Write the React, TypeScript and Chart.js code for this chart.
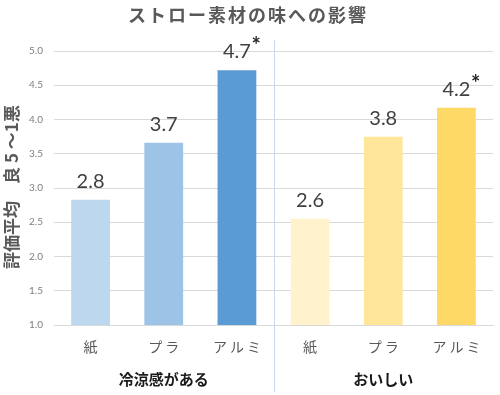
import React, { useEffect, useRef } from "react";
import { Chart, registerables } from "chart.js";

Chart.register(...registerables);

const title = "ストロー素材の味への影響";
const yAxisTitle = "評価平均　良 5 ～1悪";
const categories = ["紙", "プラ", "アルミ", "紙", "プラ", "アルミ"];
const groups = ["冷涼感がある", "おいしい"];
const values = [2.83, 3.66, 4.72, 2.55, 3.75, 4.17];
const valueLabels = ["2.8", "3.7", "4.7", "2.6", "3.8", "4.2"];
const significant = [false, false, true, false, false, true];
const barColors = ["#BDD7EE", "#9DC3E6", "#5B9BD5", "#FFF2CC", "#FFE699", "#FFD966"];
const yMin = 1;
const yMax = 5;
const yStep = 0.5;

const JP = '"Noto Sans CJK JP", "Noto Sans", sans-serif';

const decorPlugin = {
  id: "decor",
  afterDatasetsDraw(chart: any) {
    const { ctx, chartArea, scales } = chart;
    const x = scales.x;
    const meta = chart.getDatasetMeta(0);
    ctx.save();
    // separator line between groups
    const sepX = Math.round((x.getPixelForValue(2) + x.getPixelForValue(3)) / 2) + 0.5;
    ctx.strokeStyle = "#C9D7EC";
    ctx.lineWidth = 1;
    ctx.beginPath();
    ctx.moveTo(sepX, chartArea.top - 11);
    ctx.lineTo(sepX, chart.height - 3);
    ctx.stroke();

    // value labels
    meta.data.forEach((bar: any, i: number) => {
      ctx.font = '20px Lato, "Noto Sans", sans-serif';
      ctx.fillStyle = "#404040";
      ctx.textAlign = "center";
      ctx.textBaseline = "alphabetic";
      const by = bar.y - 12;
      ctx.fillText(valueLabels[i], bar.x, by);
      if (significant[i]) {
        const w = ctx.measureText(valueLabels[i]).width;
        ctx.font = 'bold 22px Lato, "Noto Sans", sans-serif';
        ctx.textAlign = "left";
        ctx.fillStyle = "#262626";
        ctx.fillText("*", bar.x + w / 2 + 0.5, by - 5);
      }
    });

    // category labels
    ctx.font = "14px " + JP;
    ctx.fillStyle = "#595959";
    (ctx as any).letterSpacing = "3px";
    ctx.textAlign = "center";
    ctx.textBaseline = "middle";
    categories.forEach((c, i) => {
      ctx.fillText(c, x.getPixelForValue(i) + 1.5, 347);
    });
    (ctx as any).letterSpacing = "0px";

    // group labels
    ctx.font = "bold 15px " + JP;
    ctx.fillStyle = "#1a1a1a";
    ctx.textAlign = "center";
    ctx.textBaseline = "middle";
    groups.forEach((g, gi) => {
      const cx = (x.getPixelForValue(gi * 3) + x.getPixelForValue(gi * 3 + 2)) / 2;
      ctx.fillText(g, cx, 379);
    });

    // title
    ctx.font = "bold 18px " + JP;
    ctx.fillStyle = "#595959";
    (ctx as any).letterSpacing = "2px";
    ctx.textAlign = "center";
    ctx.textBaseline = "middle";
    ctx.fillText(title, 248, 15);
    (ctx as any).letterSpacing = "0px";

    // y axis title
    ctx.translate(12, 187);
    ctx.rotate(-Math.PI / 2);
    ctx.font = "bold 17px " + JP;
    ctx.fillStyle = "#595959";
    ctx.textAlign = "center";
    ctx.textBaseline = "middle";
    ctx.fillText(yAxisTitle, 0, 0);
    ctx.restore();
  },
};

export default function App() {
  const ref = useRef<HTMLCanvasElement>(null);
  useEffect(() => {
    if (!ref.current) return;
    const chart = new Chart(ref.current, {
      type: "bar",
      data: {
        labels: categories,
        datasets: [
          {
            data: values,
            backgroundColor: barColors,
            borderWidth: 0,
            categoryPercentage: 1,
            barPercentage: 0.53,
          },
        ],
      },
      options: {
        responsive: false,
        animation: false,
        layout: { padding: { top: 51, right: 7, left: 0, bottom: 0 } },
        plugins: {
          legend: { display: false },
          title: { display: false },
          tooltip: { enabled: false },
        },
        scales: {
          x: {
            grid: { display: false, drawTicks: false },
            border: { display: true, color: "#D9D9D9" },
            ticks: { display: false },
            afterFit: (s: any) => {
              s.height = 70;
            },
          },
          y: {
            min: yMin,
            max: yMax,
            grid: { color: "#D9D9D9", drawTicks: false },
            border: { display: false },
            ticks: {
              stepSize: yStep,
              padding: 11,
              color: "#7F7F7F",
              font: { family: 'Lato, "Noto Sans", sans-serif', size: 10 },
              callback: (v: any) => Number(v).toFixed(1),
            },
            afterFit: (s: any) => {
              s.width = 54;
            },
          },
        },
      },
      plugins: [decorPlugin],
    });
    return () => chart.destroy();
  }, []);
  return (
    <div style={{ position: "absolute", left: 0, top: 0, width: 500, height: 395, background: "#fff" }}>
      <canvas ref={ref} width={500} height={395} />
    </div>
  );
}
